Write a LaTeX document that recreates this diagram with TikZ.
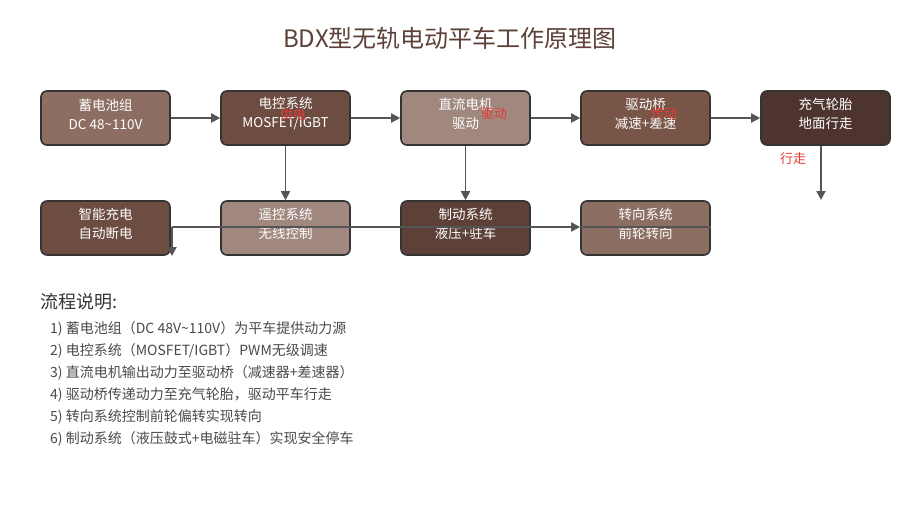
\documentclass[tikz,border=0pt]{standalone}
\usepackage{fontspec}
\setmainfont{Noto Sans CJK SC}
\usetikzlibrary{arrows.meta}
\definecolor{cA}{HTML}{8D6E63}
\definecolor{cB}{HTML}{6D4C41}
\definecolor{cC}{HTML}{A1887F}
\definecolor{cD}{HTML}{795548}
\definecolor{cE}{HTML}{4E342E}
\definecolor{cF}{HTML}{5D4037}
\definecolor{edgec}{HTML}{555555}
\definecolor{bordc}{HTML}{333333}
\definecolor{redc}{HTML}{E53935}
\definecolor{titlec}{HTML}{5D4037}
\definecolor{listc}{HTML}{4A4A4A}
\begin{document}
\begin{tikzpicture}[x=1pt,y=-1pt,
  boxs/.style={draw=bordc,line width=1.6pt,rounded corners=6pt,minimum width=129pt,minimum height=54pt,inner sep=0pt},
  txt/.style={text=white,align=center,font=\fontsize{13.5}{19}\selectfont,inner sep=0pt},
  arr/.style={draw=edgec,line width=1.8pt,-{Triangle[length=9pt,width=9pt]}},
  plain/.style={draw=edgec,line width=1.8pt},
  rlab/.style={text=redc,font=\fontsize{13}{15}\selectfont,inner sep=0pt},
  item/.style={text=listc,font=\fontsize{14}{16}\selectfont,anchor=west,inner sep=0pt}]
\useasboundingbox[fill=white] (0,0) rectangle (900,520);
\node[text=titlec,font=\fontsize{24}{28}\selectfont] (title) at (450,38) {BDX型无轨电动平车工作原理图};
% row 1
\node[boxs,fill=cA] (b1) at (105.5,118) {};
\node[boxs,fill=cB] (b2) at (285.5,118) {};
\node[boxs,fill=cC] (b3) at (465.5,118) {};
\node[boxs,fill=cD] (b4) at (645.5,118) {};
\node[boxs,fill=cE] (b5) at (825.5,118) {};
% row 2
\node[boxs,fill=cB] (s1) at (105.5,228) {};
\node[boxs,fill=cC] (s2) at (285.5,228) {};
\node[boxs,fill=cF] (s3) at (465.5,228) {};
\node[boxs,fill=cA] (s4) at (645.5,228) {};
% texts
\node[txt] (t1) at ([yshift=4pt]b1.center) {蓄电池组\\DC 48\~{}110V};
\node[txt] (t2) at ([yshift=4pt]b2.center) {电控系统\\MOSFET/IGBT};
\node[txt] (t3) at ([yshift=4pt]b3.center) {直流电机\\驱动};
\node[txt] (t4) at ([yshift=4pt]b4.center) {驱动桥\\减速+差速};
\node[txt] (t5) at ([yshift=4pt]b5.center) {充气轮胎\\地面行走};
\node[txt] (u1) at ([yshift=4pt]s1.center) {智能充电\\自动断电};
\node[txt] (u2) at ([yshift=4pt]s2.center) {遥控系统\\无线控制};
\node[txt] (u3) at ([yshift=4pt]s3.center) {制动系统\\液压+驻车};
\node[txt] (u4) at ([yshift=4pt]s4.center) {转向系统\\前轮转向};
% connectors
\draw[arr] (b1) -- (b2);
\draw[arr] (b2) -- (b3);
\draw[arr] (b3) -- (b4);
\draw[arr] (b4) -- (b5);
\draw[arr] (b2.south) -- (s2.north);
\draw[arr] (b3.south) -- (s3.north);
\coordinate (e5) at (821,200);
\draw[arr] (b5.south -| e5) -- (e5);
\coordinate (c1) at (172,227);
\coordinate (c2) at (172,256);
\draw[arr] (c1) -- (s4.west |- c1);
\draw[plain] (s4.west |- c1) -- (s4.east |- c1);
\draw[arr] (c1) -- (c2);
% red labels
\node[rlab] (l1) at (293,115) {供电};
\node[rlab] (l2) at (494,114) {驱动};
\node[rlab] (l3) at (664,114) {传动};
\node[rlab] (l4) at (793,159) {行走};
% explanation
\node[text=bordc,font=\fontsize{18}{20}\selectfont,anchor=west,inner sep=0pt] (hd) at (40,302) {流程说明:};
\node[item] (i1) at (50,329) {1) 蓄电池组（DC 48V\~{}110V）为平车提供动力源};
\node[item] (i2) at (50,351) {2) 电控系统（MOSFET/IGBT）PWM无级调速};
\node[item] (i3) at (50,373) {3) 直流电机输出动力至驱动桥（减速器+差速器）};
\node[item] (i4) at (50,395) {4) 驱动桥传递动力至充气轮胎，驱动平车行走};
\node[item] (i5) at (50,417) {5) 转向系统控制前轮偏转实现转向};
\node[item] (i6) at (50,439) {6) 制动系统（液压鼓式+电磁驻车）实现安全停车};
\end{tikzpicture}
\end{document}
